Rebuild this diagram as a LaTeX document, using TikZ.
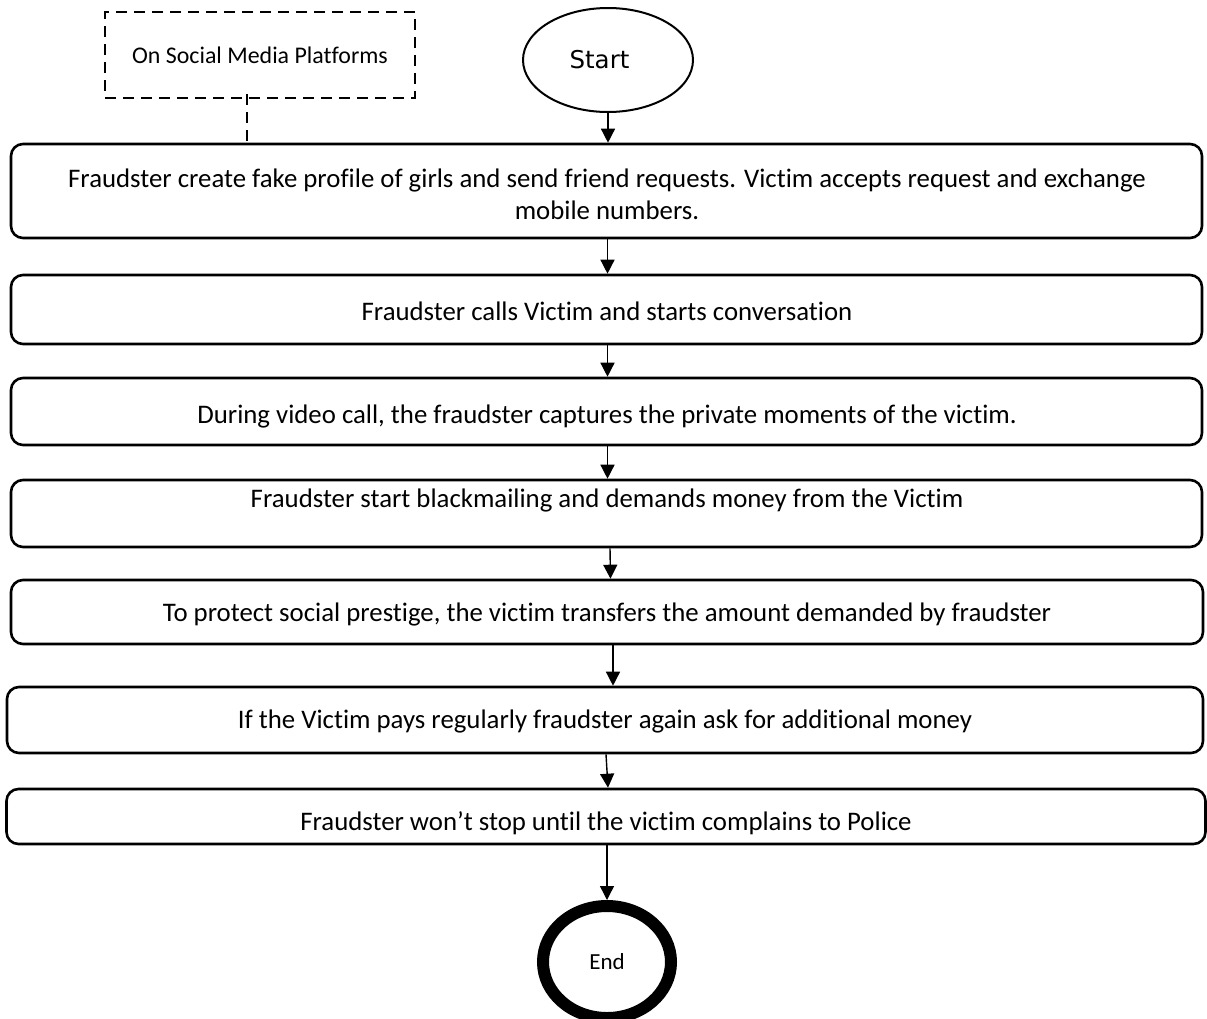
\documentclass[tikz,border=0pt]{standalone}
\usepackage{fontspec}
\setmainfont{Carlito}[Ligatures=NoCommon]
\newfontfamily\startfont{DejaVu Sans}
\usetikzlibrary{shapes.geometric,arrows.meta}

\begin{document}
\begin{tikzpicture}[x=1pt,y=-1pt,
  stepbox/.style={draw,line width=2.6pt,rounded corners=12pt,inner sep=0pt,minimum width=1191pt},
  steptext/.style={font=\fontsize{26.8}{32}\selectfont,inner sep=0pt,align=center},
  flow/.style={line width=1.4pt,-{Triangle[length=14pt,width=14pt]}},
  dashedbox/.style={draw,line width=2.6pt,dash pattern=on 11pt off 7pt,inner sep=0pt},
  dashlink/.style={line width=2.6pt,dash pattern=on 11pt off 7pt}]

\useasboundingbox (0,0) rectangle (1207,1018);

% terminals
\node[ellipse,draw,line width=2pt,minimum width=170pt,minimum height=104pt,
      font=\startfont\fontsize{24.5}{28}\selectfont] (start) at (608,60) {Start\hspace*{17pt}};
\node[ellipse,draw,line width=12pt,minimum width=128pt,minimum height=112pt,
      font=\fontsize{23}{28}\selectfont] (end) at (607,962) {End};

% context note
\node[dashedbox,minimum width=310pt,minimum height=86pt,
      font=\fontsize{23.9}{28}\selectfont] (note) at (260,55) {On Social Media Platforms};

% process steps
\node[stepbox,minimum height=94pt] (b1) at (606.5,191) {};
\node[stepbox,minimum height=69pt] (b2) at (606.5,309.5) {};
\node[stepbox,minimum height=67pt] (b3) at (606.5,411.5) {};
\node[stepbox,minimum height=67pt] (b4) at (606.5,513.5) {};
\node[stepbox,minimum height=64pt,minimum width=1192pt] (b5) at (607,612) {};
\node[stepbox,minimum height=66pt,minimum width=1196pt] (b6) at (605,720) {};
\node[stepbox,minimum height=55pt,minimum width=1199pt] (b7) at (606,816.5) {};

\node[steptext] (t1) at (607,194) {Fraudster create fake profile of girls and send friend requests. Victim accepts request and exchange\\mobile numbers.};
\node[steptext] (t2) at (607,311) {Fraudster calls Victim and starts conversation};
\node[steptext] (t3) at (607,416) {During video call, the fraudster captures the private moments of the victim.};
\node[steptext] (t4) at (607,500) {Fraudster start blackmailing and demands money from the Victim};
\node[steptext] (t5) at (607,614) {To protect social prestige, the victim transfers the amount demanded by fraudster};
\node[steptext] (t6) at (605,721) {If the Victim pays regularly fraudster again ask for additional money};
\node[steptext] (t7) at (606,823) {Fraudster won’t stop until the victim complains to Police};

% connectors
\coordinate (dx) at (247,0);
\draw[dashlink] ([yshift=5pt]note.south -| dx) -- (b1.north -| dx);
\draw[flow] (start.south) -- (b1.north -| start.south);
\draw[flow] ([xshift=1pt]b1.south) -- ([xshift=1pt]b2.north);
\draw[flow] ([xshift=1pt]b2.south) -- ([xshift=1pt]b3.north);
\draw[flow] ([xshift=1pt]b3.south) -- ([xshift=1pt]b4.north);
\draw[flow] ([xshift=3.5pt]b4.south) -- ([xshift=3.5pt]b5.north);
\draw[flow] ([xshift=6pt]b5.south) -- ([xshift=8pt]b6.north);
\draw[flow] ([xshift=1pt]b6.south) -- ([xshift=2pt]b7.north);
\draw[flow] ([xshift=1pt]b7.south) -- (end.north);
\end{tikzpicture}
\end{document}
